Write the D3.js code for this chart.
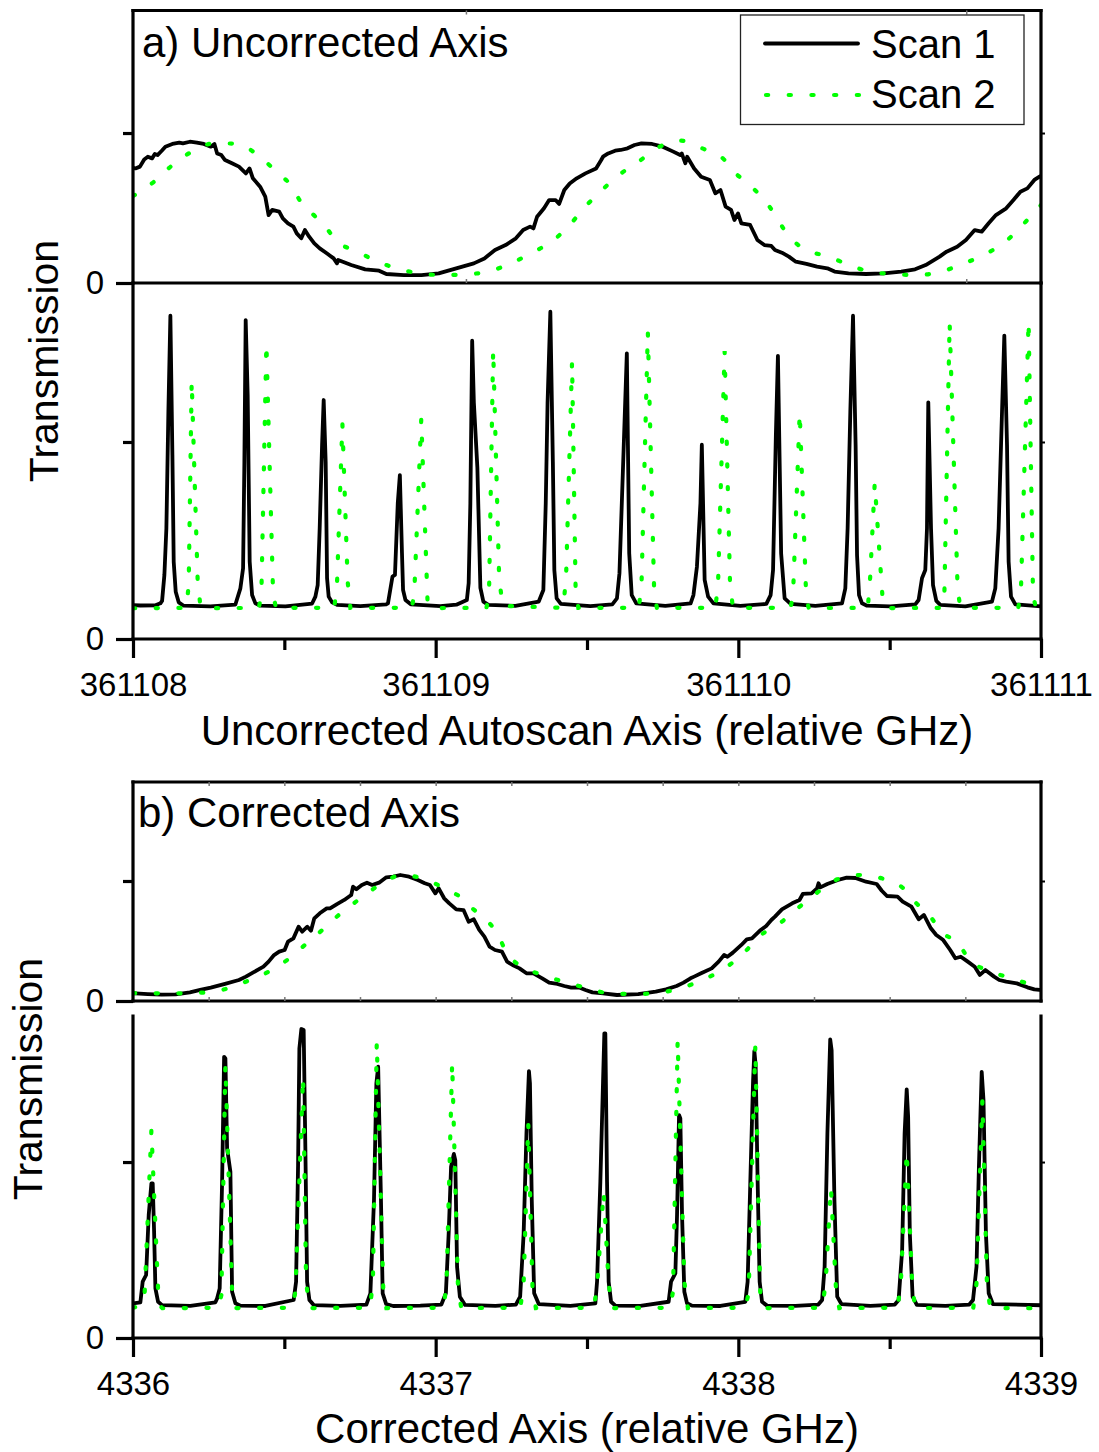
<!DOCTYPE html>
<html>
<head>
<meta charset="utf-8">
<script src="https://cdn.jsdelivr.net/npm/d3@7"></script>
<style>
  html, body { margin: 0; padding: 0; background: #fff; }
  svg { display: block; }
</style>
</head>
<body>
<svg id="chart" width="1099" height="1452"></svg>
<script>
// ---------------------------------------------------------------
// Data. x values are GHz offsets from the left end of each axis,
// y values are transmission in arbitrary units.
// ---------------------------------------------------------------
const tickLabelsA = ["361108", "361109", "361110", "361111"];
const tickLabelsB = ["4336", "4337", "4338", "4339"];
const yTickLabels = ["0"];
const majorTicks = [0, 1, 2, 3];
const minorTicks = [0.5, 1.5, 2.5];
const etalonTicksA = [1.10, 2.753];
const etalonTicksB = [0.25, 0.5, 0.75, 1, 1.25, 1.5, 1.75, 2, 2.25, 2.5, 2.75];
const seriesNames = ["Scan 1", "Scan 2"];

// a) etalon fringe, uncorrected axis
const etalonA_scan1 = [
  [0,0.767],[0.008,0.764],[0.023,0.776],[0.037,0.824],[0.049,0.842],[0.063,0.831],[0.072,0.860],
  [0.081,0.853],[0.095,0.882],[0.107,0.909],[0.130,0.927],[0.153,0.936],[0.165,0.931],[0.188,0.942],
  [0.211,0.936],[0.234,0.927],[0.257,0.909],[0.269,0.927],[0.278,0.864],[0.292,0.853],[0.304,0.820],
  [0.327,0.798],[0.350,0.776],[0.373,0.731],[0.385,0.764],[0.396,0.698],[0.420,0.642],[0.437,0.576],
  [0.448,0.453],[0.460,0.487],[0.483,0.476],[0.495,0.431],[0.512,0.398],[0.530,0.376],[0.541,0.331],
  [0.556,0.298],[0.568,0.353],[0.582,0.309],[0.599,0.264],[0.617,0.231],[0.640,0.198],[0.663,0.164],
  [0.674,0.131],[0.678,0.153],[0.721,0.120],[0.767,0.091],[0.813,0.082],[0.837,0.060],[0.895,0.053],
  [0.953,0.053],[1.010,0.064],[1.068,0.098],[1.126,0.131],[1.161,0.164],[1.196,0.220],[1.231,0.253],
  [1.265,0.298],[1.289,0.353],[1.312,0.376],[1.323,0.364],[1.335,0.442],[1.358,0.498],[1.375,0.553],
  [1.396,0.553],[1.408,0.527],[1.425,0.620],[1.443,0.664],[1.466,0.698],[1.495,0.731],[1.530,0.764],
  [1.547,0.820],[1.553,0.842],[1.570,0.864],[1.593,0.882],[1.611,0.887],[1.634,0.898],[1.657,0.920],
  [1.680,0.931],[1.715,0.927],[1.750,0.909],[1.785,0.876],[1.808,0.853],[1.813,0.864],[1.825,0.798],
  [1.831,0.842],[1.854,0.764],[1.877,0.709],[1.906,0.687],[1.924,0.598],[1.941,0.620],[1.958,0.509],
  [1.976,0.487],[1.987,0.420],[1.999,0.464],[2.010,0.398],[2.039,0.387],[2.063,0.287],[2.086,0.253],
  [2.109,0.247],[2.121,0.220],[2.144,0.202],[2.167,0.176],[2.190,0.142],[2.225,0.127],[2.260,0.109],
  [2.294,0.098],[2.318,0.076],[2.364,0.064],[2.422,0.060],[2.480,0.064],[2.538,0.076],[2.584,0.091],
  [2.619,0.120],[2.665,0.176],[2.688,0.209],[2.723,0.242],[2.752,0.287],[2.781,0.353],[2.804,0.342],
  [2.827,0.398],[2.851,0.453],[2.885,0.498],[2.909,0.553],[2.932,0.609],[2.955,0.631],[2.978,0.687],
  [2.995,0.709],[3.0,0.715]
];
const etalonA_scan2 = [
  [0,0.580],[0.068,0.673],[0.128,0.782],[0.192,0.873],[0.267,0.931],[0.344,0.929],[0.413,0.851],
  [0.477,0.736],[0.518,0.660],[0.559,0.527],[0.603,0.442],[0.637,0.371],[0.677,0.271],[0.736,0.216],
  [0.800,0.149],[0.871,0.098],[0.947,0.064],[1.024,0.053],[1.099,0.058],[1.173,0.076],[1.248,0.131],
  [1.321,0.204],[1.390,0.287],[1.443,0.387],[1.489,0.498],[1.541,0.602],[1.601,0.713],[1.669,0.807],
  [1.740,0.909],[1.810,0.949],[1.883,0.896],[1.951,0.827],[1.993,0.727],[2.010,0.698],[2.051,0.627],
  [2.095,0.531],[2.126,0.440],[2.150,0.360],[2.219,0.224],[2.292,0.180],[2.362,0.124],[2.433,0.076],
  [2.509,0.060],[2.584,0.053],[2.659,0.069],[2.732,0.120],[2.810,0.187],[2.883,0.276],[2.937,0.382],
  [2.990,0.498],[3.0,0.520]
];

// a) cavity transmission peaks, uncorrected axis
const cavityA_scan1 = [
  [0,0.172],[0.0244,0.170],
  [0.0740,0.171],[0.0905,0.181],[0.0961,0.193],[0.1037,0.325],[0.1103,0.562],[0.1169,1.154],[0.1235,1.641],[0.1302,0.934],[0.1345,0.392],[0.1411,0.240],[0.1510,0.186],[0.1675,0.169],
  [0.2557,0.166],
  [0.3383,0.175],[0.3548,0.257],[0.3637,0.359],[0.3680,0.900],[0.3723,1.619],[0.3789,1.239],[0.3855,0.393],[0.3935,0.223],[0.4044,0.181],[0.4209,0.169],
  [0.5035,0.166],
  [0.5917,0.180],[0.6026,0.215],[0.6102,0.274],[0.6168,0.562],[0.6247,0.985],[0.6300,1.213],[0.6366,0.900],[0.6412,0.308],[0.6465,0.215],[0.6577,0.186],[0.6743,0.173],
  [0.7512,0.167],
  [0.8365,0.176],[0.8424,0.181],[0.8573,0.317],[0.8655,0.325],[0.8748,0.689],[0.8817,0.832],[0.8887,0.435],[0.8923,0.249],[0.9002,0.198],[0.9177,0.176],
  [1.0155,0.167],
  [1.0684,0.174],[1.1031,0.198],[1.1090,0.283],[1.1146,0.689],[1.1206,1.514],[1.1262,1.200],[1.1378,0.870],[1.1477,0.260],[1.1576,0.190],[1.1741,0.173],
  [1.2633,0.168],
  [1.3406,0.190],[1.3558,0.249],[1.3637,0.689],[1.3697,1.197],[1.3789,1.661],[1.3872,0.900],[1.3921,0.350],[1.3997,0.206],[1.4136,0.178],
  [1.5111,0.167],
  [1.5837,0.176],[1.5989,0.206],[1.6072,0.333],[1.6187,0.858],[1.6316,1.450],[1.6395,0.435],[1.6478,0.223],[1.6627,0.181],
  [1.7588,0.168],
  [1.8424,0.181],[1.8517,0.223],[1.8632,0.367],[1.8748,0.689],[1.8794,0.986],[1.8887,0.300],[1.9002,0.215],[1.9177,0.181],
  [2.0066,0.168],
  [2.0925,0.178],[2.1067,0.223],[2.1147,0.350],[2.1239,1.027],[2.1308,1.437],[2.1414,0.435],[2.1530,0.206],[2.1728,0.178],
  [2.2544,0.168],
  [2.3426,0.181],[2.3535,0.257],[2.3611,0.562],[2.3700,1.154],[2.3789,1.641],[2.3875,0.985],[2.3922,0.426],[2.3988,0.223],[2.4087,0.181],[2.4252,0.169],
  [2.5021,0.166],
  [2.5847,0.176],[2.5956,0.198],[2.6068,0.308],[2.6177,0.350],[2.6233,0.562],[2.6276,1.201],[2.6366,0.562],[2.6432,0.274],[2.6541,0.193],[2.6673,0.173],
  [2.7499,0.166],
  [2.8381,0.190],[2.8490,0.257],[2.8599,0.562],[2.8712,1.154],[2.8788,1.540],[2.8877,0.985],[2.8930,0.393],[2.9009,0.215],[2.9151,0.176],
  [3.0,0.166]
];
const cavityA_scan2 = [
  [0,0.156],
  [0.1764,0.158],[0.1840,0.274],[0.1939,1.311],[0.2137,0.294],[0.2227,0.168],[0.2425,0.156],
  [0.4159,0.158],[0.4242,0.232],[0.4407,1.501],[0.4628,0.232],[0.4721,0.158],
  [0.6653,0.158],[0.6743,0.291],[0.6918,1.095],[0.7093,0.291],[0.7182,0.158],
  [0.9214,0.158],[0.9293,0.232],[0.9524,1.117],[0.9732,0.189],[0.9825,0.157],
  [1.1675,0.158],[1.1761,0.215],[1.1900,1.470],[1.2098,0.308],[1.2213,0.168],
  [1.4219,0.158],[1.4311,0.325],[1.4506,1.408],[1.4625,0.240],[1.4714,0.158],
  [1.6713,0.158],[1.6802,0.282],[1.7010,1.560],[1.7218,0.249],[1.7308,0.158],
  [1.9240,0.158],[1.9329,0.274],[1.9547,1.462],[1.9723,0.299],[1.9818,0.158],
  [2.1724,0.158],[2.1807,0.223],[2.2028,1.149],[2.2246,0.198],[2.2329,0.157],
  [2.4278,0.158],[2.4357,0.316],[2.4506,0.790],[2.4774,0.189],[2.4856,0.157],
  [2.6723,0.158],[2.6806,0.215],[2.6981,1.607],[2.7245,0.257],[2.7334,0.158],
  [2.9250,0.158],[2.9339,0.257],[2.9590,1.614],[2.9736,0.227],[2.9828,0.158],
  [3.0,0.156]
];

// b) etalon fringe, corrected axis
const etalonB_scan1 = [
  [0,0.065],[0.008,0.064],[0.049,0.058],[0.095,0.053],[0.141,0.056],[0.188,0.072],[0.222,0.092],
  [0.257,0.111],[0.304,0.142],[0.350,0.175],[0.373,0.203],[0.396,0.236],[0.431,0.286],[0.448,0.328],
  [0.466,0.383],[0.483,0.411],[0.501,0.425],[0.512,0.494],[0.530,0.522],[0.547,0.619],[0.559,0.578],
  [0.576,0.619],[0.588,0.586],[0.599,0.689],[0.617,0.731],[0.640,0.772],[0.651,0.772],[0.674,0.808],
  [0.698,0.842],[0.721,0.883],[0.727,0.953],[0.738,0.931],[0.756,0.967],[0.773,0.986],[0.790,0.967],
  [0.813,0.986],[0.837,1.031],[0.860,1.036],[0.883,1.050],[0.912,1.036],[0.941,1.008],[0.964,0.981],
  [0.981,0.967],[0.999,0.897],[1.010,0.939],[1.028,0.856],[1.045,0.814],[1.068,0.764],[1.092,0.758],
  [1.109,0.661],[1.126,0.681],[1.144,0.592],[1.161,0.536],[1.178,0.453],[1.196,0.425],[1.219,0.411],
  [1.236,0.328],[1.254,0.300],[1.277,0.272],[1.300,0.231],[1.323,0.231],[1.352,0.189],[1.375,0.153],
  [1.402,0.142],[1.425,0.125],[1.448,0.111],[1.472,0.114],[1.495,0.092],[1.518,0.072],[1.553,0.064],
  [1.599,0.050],[1.669,0.058],[1.727,0.078],[1.761,0.097],[1.796,0.125],[1.819,0.153],[1.842,0.189],
  [1.854,0.203],[1.877,0.231],[1.912,0.272],[1.935,0.328],[1.953,0.383],[1.964,0.369],[1.982,0.403],
  [2.010,0.467],[2.028,0.514],[2.045,0.522],[2.074,0.592],[2.092,0.625],[2.109,0.675],[2.121,0.703],
  [2.144,0.764],[2.178,0.814],[2.202,0.842],[2.213,0.892],[2.242,0.897],[2.260,0.939],[2.265,0.981],
  [2.271,0.947],[2.294,0.975],[2.329,1.008],[2.358,1.028],[2.387,1.025],[2.422,0.994],[2.457,0.975],
  [2.474,0.919],[2.491,0.875],[2.526,0.869],[2.543,0.828],[2.572,0.786],[2.596,0.681],[2.613,0.717],
  [2.636,0.606],[2.654,0.550],[2.677,0.508],[2.700,0.425],[2.717,0.356],[2.735,0.369],[2.758,0.328],
  [2.781,0.286],[2.798,0.217],[2.816,0.258],[2.845,0.203],[2.862,0.175],[2.885,0.161],[2.920,0.147],
  [2.955,0.114],[2.978,0.097],[2.995,0.092],[3.0,0.092]
];
const etalonB_scan2 = [
  [0,0.065],[0.068,0.064],[0.147,0.064],[0.222,0.069],[0.294,0.092],[0.373,0.161],[0.448,0.244],
  [0.512,0.347],[0.568,0.467],[0.619,0.578],[0.680,0.717],[0.747,0.847],[0.819,0.975],[0.889,1.050],
  [0.964,1.014],[1.034,0.931],[1.094,0.842],[1.115,0.786],[1.155,0.703],[1.202,0.569],[1.236,0.397],
  [1.275,0.300],[1.347,0.222],[1.423,0.161],[1.495,0.111],[1.574,0.064],[1.648,0.058],[1.724,0.064],
  [1.798,0.100],[1.875,0.167],[1.949,0.264],[2.014,0.389],[2.068,0.536],[2.134,0.642],[2.196,0.772],
  [2.250,0.883],[2.327,1.014],[2.401,1.050],[2.474,1.022],[2.543,0.944],[2.586,0.819],[2.630,0.717],
  [2.674,0.569],[2.725,0.486],[2.764,0.342],[2.813,0.264],[2.885,0.203],[2.961,0.142],[3.0,0.110]
];

// b) cavity transmission peaks, corrected axis
const cavityB_scan1 = [
  [0,0.197],
  [0.0244,0.203],[0.0320,0.320],[0.0433,0.358],[0.0519,0.699],[0.0608,0.879],[0.0651,0.879],[0.0697,0.604],[0.0740,0.282],[0.0829,0.206],[0.0961,0.187],
  [0.1896,0.183],
  [0.2722,0.203],[0.2778,0.225],[0.2864,0.282],[0.2944,0.888],[0.3010,1.598],[0.3053,1.589],[0.3109,1.078],[0.3218,0.945],[0.3274,0.263],[0.3383,0.197],[0.3548,0.184],
  [0.4374,0.182],
  [0.5309,0.216],[0.5388,0.320],[0.5454,0.983],[0.5497,1.646],[0.5563,1.756],[0.5639,1.750],[0.5695,1.078],[0.5752,0.320],[0.5828,0.216],[0.5970,0.187],
  [0.6852,0.183],
  [0.7711,0.190],[0.7843,0.254],[0.7962,0.784],[0.8041,1.447],[0.8100,1.542],[0.8193,0.784],[0.8249,0.254],[0.8365,0.193],[0.8596,0.182],
  [0.9495,0.184],
  [1.0188,0.190],[1.0337,0.254],[1.0430,0.595],[1.0509,0.974],[1.0601,1.046],[1.0648,1.011],[1.0707,0.405],[1.0799,0.235],[1.0971,0.188],
  [1.1972,0.183],
  [1.2649,0.190],[1.2791,0.235],[1.2907,0.595],[1.3000,1.163],[1.3082,1.517],[1.3115,1.447],[1.3175,0.784],[1.3254,0.254],[1.3406,0.193],
  [1.4450,0.183],
  [1.5276,0.197],[1.5332,0.320],[1.5441,0.888],[1.5530,1.456],[1.5573,1.731],[1.5606,1.731],[1.5662,0.888],[1.5715,0.320],[1.5795,0.206],[1.5937,0.184],
  [1.6763,0.183],
  [1.7697,0.206],[1.7777,0.320],[1.7919,0.367],[1.7975,0.699],[1.8041,1.267],[1.8084,1.248],[1.8140,0.699],[1.8216,0.263],[1.8305,0.197],[1.8470,0.184],
  [1.9405,0.182],
  [2.0231,0.206],[2.0307,0.320],[2.0396,0.888],[2.0486,1.456],[2.0529,1.631],[2.0572,1.551],[2.0638,0.888],[2.0704,0.320],[2.0783,0.206],[2.0948,0.184],
  [2.1883,0.183],
  [2.2643,0.190],[2.2768,0.216],[2.2851,0.405],[2.2943,1.163],[2.3036,1.697],[2.3082,1.636],[2.3175,0.784],[2.3267,0.235],[2.3406,0.193],
  [2.4361,0.183],
  [2.5170,0.190],[2.5296,0.216],[2.5412,0.500],[2.5494,1.163],[2.5563,1.413],[2.5610,1.258],[2.5666,0.595],[2.5758,0.235],[2.5897,0.188],
  [2.6839,0.183],
  [2.7632,0.190],[2.7754,0.216],[2.7869,0.405],[2.7949,0.974],[2.8041,1.513],[2.8100,1.352],[2.8180,0.595],[2.8272,0.254],[2.8411,0.193],
  [3.0,0.186]
];
const cavityB_scan2 = [
  [0,0.172],
  [0.0278,0.185],[0.0387,0.263],[0.0608,1.182],[0.0849,0.191],[0.0971,0.169],
  [0.2821,0.172],[0.2920,0.244],[0.3053,1.551],[0.3274,0.263],[0.3383,0.170],
  [0.5266,0.172],[0.5365,0.263],[0.5619,1.485],[0.5719,0.320],[0.5828,0.170],
  [0.7826,0.172],[0.7925,0.311],[0.8054,1.684],[0.8272,0.254],[0.8371,0.170],
  [1.0264,0.172],[1.0360,0.311],[1.0545,1.566],[1.0740,0.273],[1.0849,0.170],
  [1.2798,0.172],[1.2907,0.311],[1.3059,1.220],[1.3198,0.292],[1.3310,0.170],
  [1.5226,0.172],[1.5332,0.292],[1.5550,0.831],[1.5715,0.311],[1.5821,0.170],
  [1.7737,0.172],[1.7843,0.263],[1.7995,1.693],[1.8216,0.320],[1.8332,0.170],
  [2.0231,0.172],[2.0340,0.254],[2.0562,1.665],[2.0727,0.225],[2.0826,0.170],
  [2.2775,0.172],[2.2884,0.311],[2.3059,0.856],[2.3234,0.254],[2.3337,0.170],
  [2.5269,0.172],[2.5378,0.349],[2.5563,1.059],[2.5748,0.292],[2.5847,0.170],
  [2.7763,0.172],[2.7869,0.311],[2.8064,1.352],[2.8216,0.292],[2.8325,0.170],
  [3.0,0.169]
];

// ---------------------------------------------------------------
// Drawing
// ---------------------------------------------------------------
const FONT = '"Liberation Sans", Arial, Helvetica, sans-serif';
const SCAN1 = { stroke: "#000", width: 3.8 };
const SCAN2 = { stroke: "#00ff00", width: 4.2, dash: "2.2 20.5" };

const svg = d3.select("#chart");
const defs = svg.append("defs");

const X_LEFT = 133, X_RIGHT = 1041;
const x = d3.scaleLinear().domain([0, 3]).range([X_LEFT, X_RIGHT]);

const plots = [
  { key: "aTop", top: 10.5, bottom: 283, ymax: 1.817, s1: etalonA_scan1, s2: etalonA_scan2,
    smooth: true, topLine: true, innerTicks: etalonTicksA },
  { key: "aBot", top: 283, bottom: 639, ymax: 1.807, s1: cavityA_scan1, s2: cavityA_scan2,
    labels: tickLabelsA },
  { key: "bTop", top: 782, bottom: 1001, ymax: 1.825, s1: etalonB_scan1, s2: etalonB_scan2,
    smooth: true, topLine: true, innerTicks: etalonTicksB },
  { key: "bBot", top: 1016, bottom: 1338, ymax: 1.830, s1: cavityB_scan1, s2: cavityB_scan2,
    labels: tickLabelsB }
];

function styleTicks(g, width, color) {
  g.select(".domain").remove();
  g.selectAll(".tick line").attr("stroke", color || "#000").attr("stroke-width", width);
  g.attr("font-family", FONT);
}

plots.forEach(p => {
  const y = d3.scaleLinear().domain([0, p.ymax]).range([p.bottom, p.top]);

  // data, clipped to the plotting area
  const clipId = "clip-" + p.key;
  defs.append("clipPath").attr("id", clipId)
    .append("rect")
    .attr("x", X_LEFT).attr("y", p.top)
    .attr("width", X_RIGHT - X_LEFT).attr("height", p.bottom - p.top);

  const layer = svg.append("g").attr("clip-path", `url(#${clipId})`);
  const line1 = d3.line().x(d => x(d[0])).y(d => y(d[1]));
  const line2 = d3.line().x(d => x(d[0])).y(d => y(d[1]))
    .curve(p.smooth ? d3.curveMonotoneX : d3.curveLinear);

  layer.append("path").datum(p.s1)
    .attr("d", line1)
    .attr("fill", "none")
    .attr("stroke", SCAN1.stroke)
    .attr("stroke-width", SCAN1.width)
    .attr("stroke-linejoin", "round")
    .attr("stroke-linecap", "round");

  layer.append("path").datum(p.s2)
    .attr("d", line2)
    .attr("fill", "none")
    .attr("stroke", SCAN2.stroke)
    .attr("stroke-width", SCAN2.width)
    .attr("stroke-dasharray", SCAN2.dash)
    .attr("stroke-linecap", "round");

  // frame
  const fr = svg.append("g")
    .attr("stroke", "#000").attr("stroke-width", 3.2).attr("stroke-linecap", "square");
  fr.append("line").attr("x1", X_LEFT).attr("x2", X_LEFT).attr("y1", p.top).attr("y2", p.bottom);
  fr.append("line").attr("x1", X_RIGHT).attr("x2", X_RIGHT).attr("y1", p.top).attr("y2", p.bottom);
  fr.append("line").attr("x1", X_LEFT).attr("x2", X_RIGHT).attr("y1", p.bottom).attr("y2", p.bottom);
  if (p.topLine) {
    fr.append("line").attr("x1", X_LEFT).attr("x2", X_RIGHT).attr("y1", p.top).attr("y2", p.top);
  }

  // y ticks: labelled zero, unlabelled mid tick, small ticks on the right edge
  svg.append("g").attr("transform", `translate(${X_LEFT},0)`)
    .call(d3.axisLeft(y).tickValues([0]).tickSize(17).tickPadding(12)
      .tickFormat((d, i) => yTickLabels[i]))
    .call(g => styleTicks(g, 3.2))
    .call(g => g.selectAll("text").attr("font-size", 33).attr("dy", "0.31em"));

  svg.append("g").attr("transform", `translate(${X_LEFT},0)`)
    .call(d3.axisLeft(y).tickValues([1]).tickSize(10).tickFormat(""))
    .call(g => styleTicks(g, 3.2));

  svg.append("g").attr("transform", `translate(${X_RIGHT},0)`)
    .call(d3.axisRight(y).tickValues([1]).tickSize(4).tickFormat(""))
    .call(g => styleTicks(g, 2));

  // faint inward ticks on the fringe panels
  if (p.innerTicks) {
    svg.append("g").attr("transform", `translate(0,${p.top})`)
      .call(d3.axisBottom(x).tickValues(p.innerTicks).tickSize(4).tickFormat(""))
      .call(g => styleTicks(g, 1.5, "#777"));
    svg.append("g").attr("transform", `translate(0,${p.bottom})`)
      .call(d3.axisTop(x).tickValues(p.innerTicks).tickSize(4).tickFormat(""))
      .call(g => styleTicks(g, 1.5, "#777"));
  }

  // labelled frequency axis
  if (p.labels) {
    svg.append("g").attr("transform", `translate(0,${p.bottom})`)
      .call(d3.axisBottom(x).tickValues(majorTicks).tickSize(19).tickPadding(15)
        .tickFormat((d, i) => p.labels[i]))
      .call(g => styleTicks(g, 3.2))
      .call(g => g.selectAll("text").attr("font-size", 33));
    svg.append("g").attr("transform", `translate(0,${p.bottom})`)
      .call(d3.axisBottom(x).tickValues(minorTicks).tickSize(11).tickFormat(""))
      .call(g => styleTicks(g, 3.2));
  }
});

// titles
const txt = (s, xx, yy, size, anchor) => svg.append("text")
  .attr("x", xx).attr("y", yy)
  .attr("font-family", FONT).attr("font-size", size)
  .attr("text-anchor", anchor || "start").attr("fill", "#000")
  .text(s);

txt("a) Uncorrected Axis", 142, 57, 42);
txt("b) Corrected Axis", 138, 827, 42);
txt("Uncorrected Autoscan Axis (relative GHz)", (X_LEFT + X_RIGHT) / 2, 745, 42, "middle");
txt("Corrected Axis (relative GHz)", (X_LEFT + X_RIGHT) / 2, 1443, 42, "middle");

[[58, 361], [42, 1079]].forEach(([tx, ty]) => {
  svg.append("text")
    .attr("transform", `translate(${tx},${ty}) rotate(-90)`)
    .attr("font-family", FONT).attr("font-size", 41)
    .attr("text-anchor", "middle").attr("fill", "#000")
    .text("Transmission");
});

// legend
const lg = svg.append("g");
lg.append("rect")
  .attr("x", 740.5).attr("y", 15).attr("width", 283.5).attr("height", 109.5)
  .attr("fill", "#fff").attr("stroke", "#222").attr("stroke-width", 1.3);
lg.append("line")
  .attr("x1", 765).attr("x2", 858).attr("y1", 43.5).attr("y2", 43.5)
  .attr("stroke", SCAN1.stroke).attr("stroke-width", SCAN1.width).attr("stroke-linecap", "round");
lg.append("line")
  .attr("x1", 766).attr("x2", 860).attr("y1", 95).attr("y2", 95)
  .attr("stroke", SCAN2.stroke).attr("stroke-width", SCAN2.width)
  .attr("stroke-dasharray", SCAN2.dash).attr("stroke-linecap", "round");
lg.append("text").attr("x", 871).attr("y", 57.5)
  .attr("font-family", FONT).attr("font-size", 40).text(seriesNames[0]);
lg.append("text").attr("x", 871).attr("y", 108)
  .attr("font-family", FONT).attr("font-size", 40).text(seriesNames[1]);
</script>
</body>
</html>
